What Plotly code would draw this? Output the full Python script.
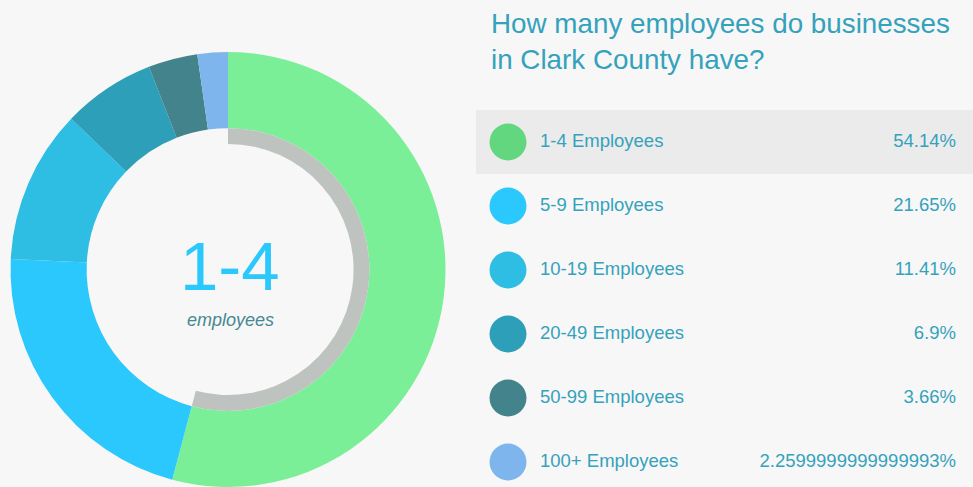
import plotly.graph_objects as go

categories = ["1-4 Employees", "5-9 Employees", "10-19 Employees", "20-49 Employees", "50-99 Employees", "100+ Employees"]
values = [54.14, 21.65, 11.41, 6.9, 3.66, 2.2599999999999993]
value_labels = ["54.14%", "21.65%", "11.41%", "6.9%", "3.66%", "2.2599999999999993%"]
pie_colors = ["#7aef97", "#2bc8fd", "#2ebde3", "#2e9fb9", "#42838c", "#7db5ec"]
legend_colors = ["#62d77f", "#2bc8fd", "#2ebde3", "#2e9fb9", "#42838c", "#7db5ec"]
selected = 0
center_big = "1-4"
center_small = "employees"
title_text = "How many employees do businesses<br>in Clark County have?"

W, H = 973, 487
BG = "#f7f7f7"
TEXT = "#35a2bc"
FONT = "Liberation Sans, Arial, sans-serif"

# donut geometry (pixels from top-left)
cx = 228
x0, x1 = 8, 448
y0, y1 = 52, 487
R = min(x1 - x0, y1 - y0) / 2
cy = (y0 + y1) / 2
s = R / 220.0
hole_r = 143 * s
ring_in = 127 * s

def px_dom(xa, xb, ya, yb):
    return dict(x=[xa / W, xb / W], y=[1 - yb / H, 1 - ya / H])

fig = go.Figure()
fig.add_trace(go.Pie(
    labels=categories, values=values, sort=False, direction="clockwise", rotation=0,
    hole=hole_r / R, marker=dict(colors=pie_colors, line=dict(width=0)),
    textinfo="none", showlegend=False, domain=px_dom(x0, x1, y0, y1),
))
ring_colors = ["#bfc3bf" if i == selected else "rgba(0,0,0,0)" for i in range(len(values))]
fig.add_trace(go.Pie(
    labels=categories, values=values, sort=False, direction="clockwise", rotation=0,
    hole=ring_in / hole_r, marker=dict(colors=ring_colors, line=dict(width=0)),
    textinfo="none", showlegend=False, hoverinfo="skip",
    domain=px_dom(cx - hole_r, cx + hole_r, cy - hole_r, cy + hole_r),
))

# legend list on a hidden cartesian axis
idx = list(range(len(categories)))
row_top = 110
row_h = 64
n_rows_visible = (H - row_top) / row_h
fig.add_trace(go.Scatter(
    x=[32] * len(idx), y=idx, mode="markers",
    marker=dict(size=37, color=legend_colors, line=dict(width=0)),
    showlegend=False, hoverinfo="skip", xaxis="x", yaxis="y",
))
fig.add_trace(go.Scatter(
    x=[64] * len(idx), y=idx, mode="text", text=categories, textposition="middle right",
    textfont=dict(size=18.5, color=TEXT, family=FONT),
    showlegend=False, hoverinfo="skip", xaxis="x", yaxis="y",
))
fig.add_trace(go.Scatter(
    x=[480] * len(idx), y=idx, mode="text", text=value_labels, textposition="middle left",
    textfont=dict(size=18.5, color=TEXT, family=FONT),
    showlegend=False, hoverinfo="skip", xaxis="x", yaxis="y",
))

fig.add_shape(type="rect", xref="x domain", yref="y", x0=0, x1=1,
              y0=selected - 0.5, y1=selected + 0.5, fillcolor="#ebebeb",
              line=dict(width=0), layer="below")

fig.update_layout(
    width=W, height=H, margin=dict(l=0, r=0, t=0, b=0),
    paper_bgcolor=BG, plot_bgcolor=BG,
    xaxis=dict(domain=[476 / W, 1], range=[0, W - 476], visible=False, fixedrange=True),
    yaxis=dict(domain=[0, (H - row_top) / H], range=[-0.5 + n_rows_visible, -0.5],
               visible=False, fixedrange=True),
    annotations=[
        dict(text=title_text, x=489 / W, y=1 - 6 / H, xref="paper", yref="paper",
             xanchor="left", yanchor="top", align="left", showarrow=False,
             font=dict(size=27.8, color=TEXT, family=FONT)),
        dict(text=center_big, x=(cx + 2) / W, y=1 - 266 / H, xref="paper", yref="paper",
             xanchor="center", yanchor="middle", showarrow=False,
             font=dict(size=69, color="#2bc8fd", family=FONT)),
        dict(text="<i>" + center_small + "</i>", x=(cx + 2) / W, y=1 - 320 / H, xref="paper", yref="paper",
             xanchor="center", yanchor="middle", showarrow=False,
             font=dict(size=18, color="#468892", family=FONT)),
    ],
)

fig.write_html("out.html", config={"displayModeBar": False},
               post_script="document.body.style.margin='0';document.body.style.overflow='hidden';")
